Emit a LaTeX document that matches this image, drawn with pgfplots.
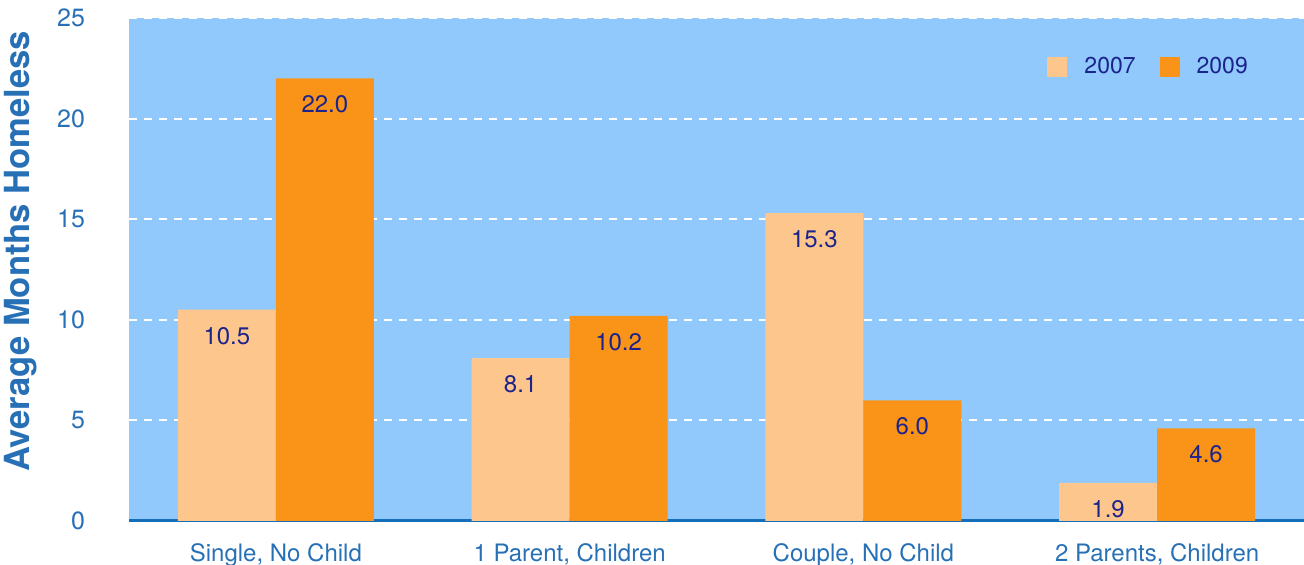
\documentclass[border=0pt]{standalone}
\usepackage{fontspec}
\setmainfont{TeX Gyre Heros}
\usepackage{pgfplots}
\pgfplotsset{compat=1.18}
\usetikzlibrary{calc}
\definecolor{bgblue}{RGB}{145,201,252}
\definecolor{cA}{RGB}{253,198,141}
\definecolor{cB}{RGB}{249,148,25}
\definecolor{navy}{RGB}{28,36,140}
\definecolor{tickblue}{RGB}{40,112,182}
\definecolor{axisblue}{RGB}{20,110,185}
\begin{document}
\begin{tikzpicture}
\begin{axis}[
  scale only axis,
  width=587.5pt, height=251.5pt,
  ybar=0pt, bar width=49pt,
  xmin=-0.5, xmax=3.5,
  ymin=0, ymax=25,
  xtick={0,1,2,3},
  xticklabels={{Single, No Child},{1 Parent, Children},{Couple, No Child},{2 Parents, Children}},
  ytick={0,5,10,15,20,25},
  axis lines=left,
  y axis line style={draw=none},
  x axis line style={-, line width=1.5pt, color=axisblue},
  axis background/.style={fill=bgblue},
  ymajorgrids,
  major grid style={white, dash pattern=on 4pt off 3.5pt, line width=1pt},
  major tick length=0pt,
  tick style={draw=none},
  /pgf/number format/assume math mode=true,
  ticklabel style={font=\fontsize{12.5}{14}\selectfont, color=tickblue},
  xticklabel style={yshift=-8pt, font=\fontsize{12}{14}\selectfont},
  yticklabel style={xshift=-18.5pt},
  every axis y label/.style={at={(axis description cs:-0.0919,0.536)}, rotate=90, anchor=center},
  ylabel={Average Months Homeless},
  ylabel style={font=\fontsize{17.3}{20}\selectfont\bfseries, color=tickblue},
  nodes near coords,
  nodes near coords style={/pgf/number format/fixed, /pgf/number format/fixed zerofill, /pgf/number format/precision=1, /pgf/number format/assume math mode=true, anchor=center, yshift=-13pt, font=\fontsize{12}{14}\selectfont, color=navy},
  legend columns=2,
  legend style={at={(axis description cs:0.961,0.902)}, anchor=east, draw=none, fill=none,
    font=\fontsize{11.5}{14}\selectfont, text=navy,
    /tikz/every odd column/.append style={column sep=6.5pt},
    /tikz/every even column/.append style={column sep=10pt}},
]
\addplot[fill=cA, draw=none, legend image code/.code={\fill[cA] (0pt,-5pt) rectangle (10pt,5pt);}] coordinates {(0,10.5) (1,8.1) (2,15.3) (3,1.9)};
\addplot[fill=cB, draw=none, legend image code/.code={\fill[cB] (0pt,-5pt) rectangle (10pt,5pt);}] coordinates {(0,22.0) (1,10.2) (2,6.0) (3,4.6)};
\legend{2007,2009}
\end{axis}
\pgfresetboundingbox
\path ($(current axis.south west)+(-64.5pt,-22pt)$) rectangle ($(current axis.north east)+(0pt,9pt)$);
\end{tikzpicture}
\end{document}
